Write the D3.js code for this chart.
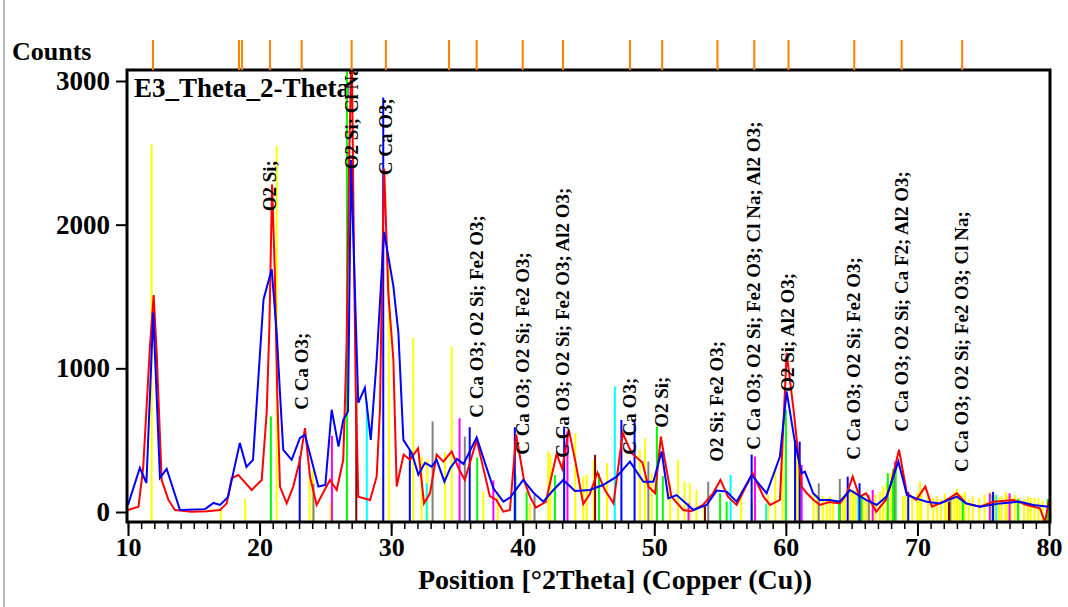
<!DOCTYPE html>
<html>
<head>
<meta charset="utf-8">
<script src="https://cdn.jsdelivr.net/npm/d3@7"></script>
<style>
  body { margin: 0; background: #fff; }
  svg { display: block; }
  text { font-family: "Liberation Serif", "Times New Roman", serif; font-weight: bold; fill: #000; }
</style>
</head>
<body>
<svg id="chart" width="1068" height="607"></svg>
<script>
// measured scans (2Theta, counts)
const redScan = [
  [10.0, 14], [10.8, 37], [11.16, 316], [11.67, 1153], [11.95, 1510], [12.18, 1107], [12.56, 223], [13.07, 84],
  [13.57, 14], [14.84, 2], [16.0, 5], [17.0, 14], [17.5, 60], [17.88, 235], [18.38, 258], [19.4, 153],
  [20.16, 223], [20.54, 689], [20.75, 1300], [20.95, 2280], [21.15, 1700], [21.35, 800], [21.55, 177],
  [22.06, 60], [22.56, 177], [23.07, 363], [23.45, 584], [23.83, 246], [24.34, 49], [25.35, 223], [25.86, 153],
  [26.36, 363], [26.62, 1177], [26.8, 2400], [27.0, 3300], [27.15, 2000], [27.3, 900], [27.5, 107], [28.4, 84],
  [28.9, 246], [29.15, 712], [29.3, 1600], [29.47, 2390], [29.65, 1900], [29.78, 1527], [30.17, 1060], [30.42, 177],
  [30.95, 400], [31.43, 363], [32.05, 444], [32.5, 60], [32.95, 130], [33.46, 400], [33.97, 351], [34.6, 421],
  [35.15, 300], [35.6, 223], [36.5, 502], [37.5, 110], [38.0, 84], [38.53, 2], [39.03, 14], [39.5, 540],
  [40.1, 220], [40.55, 107], [41.0, 30], [41.75, 70], [42.07, 200], [42.58, 405], [43.0, 300], [43.5, 575],
  [44.05, 330], [44.6, 55], [45.1, 125], [45.68, 275], [46.25, 153], [46.9, 60], [47.6, 549], [48.28, 409],
  [49.1, 344], [49.55, 177], [50.06, 130], [50.5, 525], [50.8, 363], [51.3, 107], [52.2, 14], [52.8, 5],
  [53.7, 49], [54.46, 130], [55.03, 223], [55.6, 107], [56.26, 49], [57.47, 270], [58.3, 107], [58.8, 49],
  [59.55, 84], [60.06, 1107], [60.6, 700], [61.2, 177], [61.6, 130], [62.1, 84], [62.6, 49], [63.3, 70],
  [64.1, 60], [64.6, 120], [65.08, 246], [65.6, 107], [66.1, 130], [66.87, 2], [67.6, 84], [68.0, 200],
  [68.6, 433], [69.2, 130], [69.9, 84], [70.6, 177], [71.1, 37], [72.0, 72], [73.0, 130], [73.7, 60],
  [74.75, 37], [75.8, 72], [77.3, 84], [78.3, 49], [79.3, 26], [79.7, -70], [80.0, 84]
];
const blueScan = [
  [10.0, 49], [10.9, 307], [11.4, 202], [11.92, 1388], [12.43, 237], [12.94, 300], [13.95, 14], [15.85, 20],
  [16.5, 63], [17.0, 49], [17.6, 105], [18.5, 481], [19.0, 314], [19.5, 363], [20.3, 1479], [20.92, 1690],
  [21.3, 1249], [21.55, 830], [21.8, 433], [22.44, 363], [23.07, 516], [23.45, 537], [24.47, 177], [25.0, 188],
  [25.48, 712], [26.0, 456], [26.36, 642], [26.72, 700], [26.95, 2450], [27.25, 1527], [27.5, 760], [28.0, 865],
  [28.45, 502], [28.9, 1060], [29.28, 1665], [29.47, 1950], [29.78, 1781], [30.17, 1572], [30.55, 1248], [30.93, 502],
  [31.56, 412], [32.07, 260], [32.57, 342], [33.08, 316], [33.46, 363], [34.05, 211], [34.5, 307], [35.0, 370],
  [35.5, 335], [36.5, 520], [37.13, 342], [37.77, 165], [38.53, 72], [39.03, 100], [40.04, 223], [40.8, 136],
  [41.57, 72], [42.33, 153], [43.08, 223], [43.97, 147], [45.1, 153], [46.1, 188], [47.14, 246], [48.15, 351],
  [49.17, 211], [49.93, 211], [50.56, 421], [51.07, 95], [51.7, 118], [52.97, 14], [53.98, 49], [54.74, 149],
  [55.5, 142], [56.26, 72], [57.4, 258], [58.54, 130], [59.55, 386], [60.06, 839], [60.7, 479], [61.2, 270],
  [61.45, 281], [62.08, 130], [62.6, 84], [63.35, 84], [64.1, 72], [64.88, 153], [65.5, 118], [66.1, 84],
  [66.9, 49], [67.65, 107], [68.55, 351], [69.2, 118], [69.9, 95], [70.7, 72], [71.7, 60], [73.0, 107],
  [73.7, 60], [74.75, 37], [76.3, 60], [77.8, 72], [78.8, 49], [79.95, 37]
];

// reference pattern sticks (2Theta, counts)
const sticksYellow = [
  [11.8, 2560], [17.05, 30], [18.9, 90], [21.3, 2550], [23.8, 230], [24.05, 290], [25.4, 63], [29.35, 250],
  [29.82, 1730], [31.68, 1210], [32.32, 386], [32.75, 363], [34.1, 415], [34.6, 1153], [37.0, 142], [38.1, 142],
  [40.55, 60], [41.95, 421], [42.1, 400], [44.0, 549], [44.6, 246], [44.86, 258], [45.4, 363], [46.4, 340],
  [48.9, 433], [49.3, 514], [49.8, 270], [51.2, 200], [51.8, 363], [52.3, 211], [52.7, 200], [53.2, 153],
  [53.8, 60], [56.6, 150], [58.66, 120], [59.2, 307], [59.75, 470], [60.8, 400], [60.95, 421], [62.1, 130],
  [62.4, 120], [62.8, 110], [63.1, 95], [63.35, 107], [63.6, 84], [64.3, 110], [64.5, 130], [64.9, 153],
  [65.1, 150], [65.3, 150], [65.9, 120], [66.1, 90], [66.35, 100], [66.8, 120], [67.15, 140], [67.4, 180],
  [67.65, 205], [68.0, 270], [68.9, 110], [69.1, 120], [69.6, 110], [70.0, 140], [70.2, 209], [70.3, 153],
  [70.8, 120], [71.2, 100], [71.5, 110], [71.8, 90], [72.1, 130], [72.3, 90], [72.6, 110], [72.8, 140],
  [73.0, 163], [73.2, 130], [73.4, 120], [73.6, 140], [73.9, 90], [74.2, 110], [74.7, 100], [75.1, 120],
  [75.5, 140], [75.9, 120], [76.2, 100], [76.4, 110], [76.7, 140], [76.8, 118], [77.1, 110], [77.4, 120],
  [77.7, 100], [78.1, 90], [78.4, 110], [78.6, 98], [78.9, 98], [79.2, 95], [79.5, 80]
];
const sticksGreen = [
  [20.86, 665], [26.64, 3100], [36.54, 380], [39.45, 258], [40.3, 142], [42.45, 258], [45.8, 270], [50.2, 595],
  [50.65, 250], [55.0, 130], [55.5, 72], [57.4, 72], [60.0, 712], [64.05, 80], [65.75, 107], [67.75, 270],
  [68.15, 300], [68.35, 340], [73.45, 90], [75.7, 118], [77.65, 90], [79.9, 90]
];
const sticksBlue = [
  [23.05, 386], [29.4, 2886], [31.42, 433], [35.97, 590], [39.4, 590], [43.15, 595], [47.5, 640], [48.5, 630],
  [57.4, 400], [60.7, 500], [61.05, 490], [64.7, 246], [65.6, 200], [69.3, 140], [75.75, 140]
];
const sticksGray = [
  [24.1, 195], [33.15, 630], [35.6, 525], [40.9, 119], [49.55, 351], [54.1, 211], [62.5, 200], [64.1, 230],
  [66.3, 120], [72.5, 80]
];
const sticksMagenta = [
  [25.5, 530], [35.2, 653], [37.77, 220], [43.4, 560], [52.6, 60], [57.65, 386], [61.2, 328], [66.6, 153],
  [68.3, 351], [75.5, 130], [77.0, 130]
];
const sticksCyan = [
  [28.15, 770], [32.7, 200], [47.0, 874], [55.8, 258], [58.5, 60], [65.5, 150], [76.0, 120]
];
const sticksMaroon = [
  [27.35, 781], [45.5, 398], [53.85, 40], [72.4, 70]
];

// peak list (orange markers above the plot)
const peakListPos = [11.9, 18.44, 18.67, 20.79, 23.2, 27.0, 29.6, 34.4, 36.5, 40.0, 43.06, 48.15, 50.6, 54.8,
  57.6, 60.2, 65.2, 68.8, 73.4];

// phase labels: position, text, counts level of label foot
const labelPos = [20.79, 23.2, 27.0, 29.6, 36.5, 40.0, 43.06, 48.15, 50.6, 54.8, 57.6, 60.2, 65.2, 68.8, 73.4];
const labelText = [
  "O2 Si;", "C Ca O3;", "O2 Si; Cl Na;", "C Ca O3;",
  "C Ca O3; O2 Si; Fe2 O3;", "C Ca O3; O2 Si; Fe2 O3;", "C Ca O3; O2 Si; Fe2 O3; Al2 O3;",
  "C Ca O3;", "O2 Si;", "O2 Si; Fe2 O3;", "C Ca O3; O2 Si; Fe2 O3; Cl Na; Al2 O3;",
  "O2 Si; Al2 O3;", "C Ca O3; O2 Si; Fe2 O3;", "C Ca O3; O2 Si; Ca F2; Al2 O3;",
  "C Ca O3; O2 Si; Fe2 O3; Cl Na;"
];
const labelLevel = [2093, 712, 2386, 2344, 656, 398, 377, 398, 586, 349, 433, 837, 363, 558, 279];

const yTicks = [0, 1000, 2000, 3000];
const xTicks = [10, 20, 30, 40, 50, 60, 70, 80];

const svg = d3.select("#chart");
const box = { left: 127, right: 1050, top: 70, bottom: 522 };

const x = d3.scaleLinear().domain([10, 80]).range([128, 1049]);
const y = d3.scaleLinear().domain([0, 3000]).range([512, 81]);

// window edge line
svg.append("line").attr("x1", 4).attr("x2", 4).attr("y1", 0).attr("y2", 607)
  .attr("stroke", "#a0a0a0").attr("stroke-width", 1.5);

svg.append("defs").append("clipPath").attr("id", "plotClip")
  .append("rect").attr("x", box.left).attr("y", box.top)
  .attr("width", box.right - box.left).attr("height", box.bottom - box.top);

const plot = svg.append("g").attr("clip-path", "url(#plotClip)");

// sample name
plot.append("text").attr("x", 134).attr("y", 97).attr("font-size", 27).text("E3_Theta_2-Theta");

const stickSets = [
  [sticksYellow, "#ffff00"], [sticksGray, "#808080"], [sticksMagenta, "#ff00ff"], [sticksCyan, "#00ffff"],
  [sticksMaroon, "#800000"], [sticksGreen, "#00ff00"], [sticksBlue, "#0000ff"]
];
stickSets.forEach(([data, color]) => {
  plot.append("g").selectAll("line").data(data).enter().append("line")
    .attr("x1", d => x(d[0])).attr("x2", d => x(d[0]))
    .attr("y1", box.bottom).attr("y2", d => y(d[1]))
    .attr("stroke", color).attr("stroke-width", 2);
});

const line = d3.line().x(d => x(d[0])).y(d => y(d[1]));
plot.append("path").datum(redScan).attr("d", line)
  .attr("fill", "none").attr("stroke", "#ff0000").attr("stroke-width", 2);
plot.append("path").datum(blueScan).attr("d", line)
  .attr("fill", "none").attr("stroke", "#0000ff").attr("stroke-width", 2);

// phase labels
plot.append("g").selectAll("text").data(labelPos).enter().append("text")
  .attr("transform", (d, i) => "translate(" + (x(d) + 6) + "," + y(labelLevel[i]) + ") rotate(-90)")
  .attr("font-size", 19)
  .text((d, i) => labelText[i]);

// frame
svg.append("rect").attr("x", box.left).attr("y", box.top)
  .attr("width", box.right - box.left).attr("height", box.bottom - box.top)
  .attr("fill", "none").attr("stroke", "#000").attr("stroke-width", 3);

// peak list markers
svg.append("g").selectAll("line").data(peakListPos).enter().append("line")
  .attr("x1", d => x(d)).attr("x2", d => x(d)).attr("y1", 40).attr("y2", box.top)
  .attr("stroke", "#ff8000").attr("stroke-width", 2);

// y axis
const yAxis = svg.append("g").attr("transform", "translate(" + (box.left - 1) + ",0)")
  .call(d3.axisLeft(y).tickValues(yTicks).tickSize(10).tickPadding(6).tickFormat(d3.format("d")));
yAxis.select(".domain").remove();
yAxis.selectAll("line").attr("stroke", "#000").attr("stroke-width", 2);
yAxis.selectAll("text").attr("font-size", 27).attr("font-family", "Liberation Serif").attr("fill", "#000");

// x axis: minor ticks every degree
const xMinor = svg.append("g").attr("transform", "translate(0," + (box.bottom + 1) + ")")
  .call(d3.axisBottom(x).ticks(70).tickSize(6).tickFormat(""));
xMinor.select(".domain").remove();
xMinor.selectAll("line").attr("stroke", "#000").attr("stroke-width", 1.5);

const xAxis = svg.append("g").attr("transform", "translate(0," + (box.bottom + 1) + ")")
  .call(d3.axisBottom(x).tickValues(xTicks).tickSize(13).tickPadding(2).tickFormat(d3.format("d")));
xAxis.select(".domain").remove();
xAxis.selectAll("line").attr("stroke", "#000").attr("stroke-width", 2);
xAxis.selectAll("text").attr("font-size", 26).attr("font-family", "Liberation Serif").attr("fill", "#000");

svg.append("text").attr("x", 615).attr("y", 589).attr("text-anchor", "middle")
  .attr("font-size", 28).text("Position [°2Theta] (Copper (Cu))");

svg.append("text").attr("x", 12).attr("y", 60).attr("font-size", 26).text("Counts");
</script>
</body>
</html>
